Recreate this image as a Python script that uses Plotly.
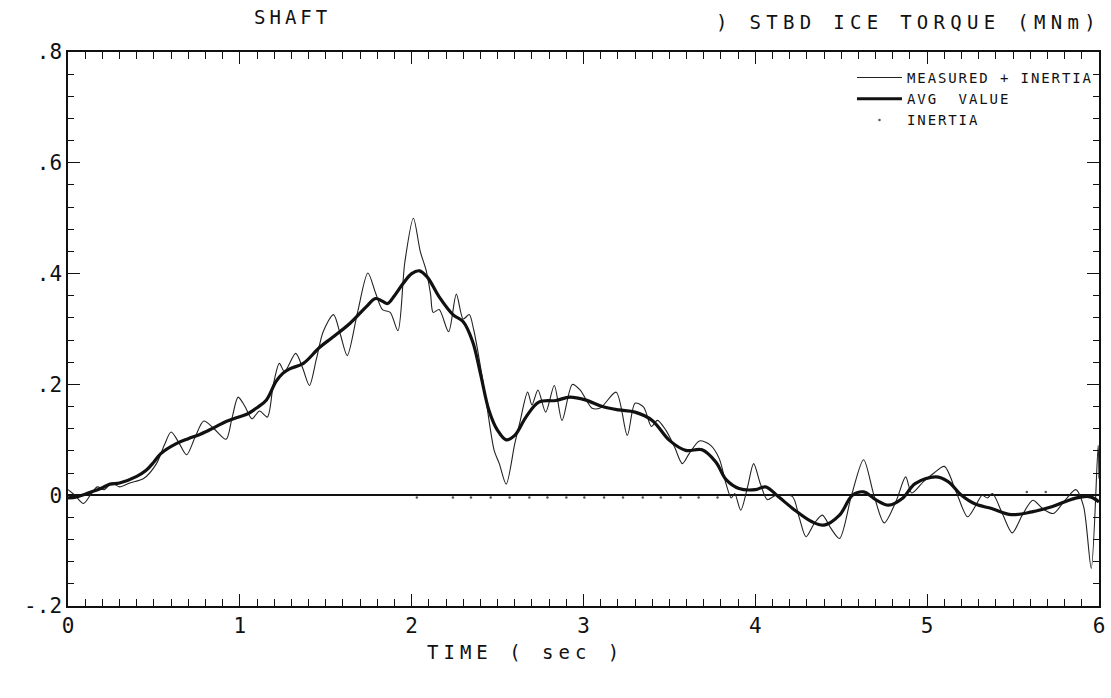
import plotly.graph_objects as go

# Shaft ice torque record, starboard side (MNm) versus time (s)
meas_t = [0.00, 0.04, 0.09, 0.13, 0.17, 0.21, 0.255, 0.30, 0.36, 0.44, 0.515, 0.56, 0.60, 0.645,
          0.69, 0.74, 0.79, 0.85, 0.92, 0.955, 0.99, 1.03, 1.07, 1.115, 1.16, 1.195, 1.23, 1.26,
          1.325, 1.365, 1.405, 1.445, 1.485, 1.545, 1.585, 1.625, 1.685, 1.745, 1.79, 1.83, 1.875,
          1.92, 1.96, 2.01, 2.05, 2.085, 2.11, 2.125, 2.16, 2.215, 2.26, 2.30, 2.335, 2.36, 2.385,
          2.43, 2.48, 2.51, 2.55, 2.60, 2.63, 2.675, 2.70, 2.735, 2.78, 2.83, 2.875, 2.935, 2.98,
          3.05, 3.10, 3.19, 3.255, 3.30, 3.35, 3.395, 3.43, 3.48, 3.53, 3.575, 3.615, 3.675, 3.74,
          3.79, 3.83, 3.86, 3.88, 3.915, 3.955, 3.99, 4.03, 4.07, 4.12, 4.215, 4.255, 4.295, 4.345,
          4.39, 4.44, 4.49, 4.56, 4.63, 4.69, 4.75, 4.82, 4.875, 4.91, 4.98, 5.04, 5.10, 5.17,
          5.235, 5.28, 5.32, 5.35, 5.38, 5.44, 5.495, 5.555, 5.615, 5.675, 5.735, 5.80, 5.865,
          5.91, 5.955, 5.995, 6.00]
meas_v = [0.010, 0.000, -0.015, 0.000, 0.015, 0.010, 0.022, 0.015, 0.022, 0.030, 0.057, 0.090, 0.114, 0.095,
          0.073, 0.105, 0.134, 0.120, 0.101, 0.140, 0.177, 0.160, 0.138, 0.152, 0.141, 0.200, 0.238, 0.223,
          0.256, 0.230, 0.198, 0.245, 0.295, 0.326, 0.290, 0.252, 0.330, 0.401, 0.365, 0.335, 0.330,
          0.297, 0.420, 0.500, 0.440, 0.405, 0.363, 0.330, 0.335, 0.295, 0.363, 0.318, 0.326, 0.300, 0.260,
          0.177, 0.081, 0.057, 0.020, 0.093, 0.132, 0.186, 0.163, 0.190, 0.150, 0.198, 0.135, 0.200, 0.190,
          0.157, 0.158, 0.186, 0.108, 0.166, 0.159, 0.124, 0.135, 0.117, 0.087, 0.057, 0.075, 0.098, 0.090,
          0.066, 0.020, -0.005, 0.003, -0.027, 0.015, 0.057, 0.020, -0.008, 0.000, -0.002, -0.040, -0.075, -0.050,
          -0.036, -0.060, -0.078, 0.000, 0.064, 0.000, -0.050, -0.010, 0.033, 0.004, 0.025, 0.040, 0.052, 0.005,
          -0.039, -0.020, 0.000, -0.005, 0.003, -0.035, -0.068, -0.035, -0.009, -0.025, -0.033, -0.010, 0.010,
          -0.020, -0.132, 0.090, 0.030]

avg_t = [0.00, 0.05, 0.11, 0.19, 0.245, 0.30, 0.40, 0.455, 0.50, 0.54, 0.63, 0.70, 0.77, 0.85, 0.92,
         0.98, 1.04, 1.10, 1.155, 1.21, 1.25, 1.29, 1.37, 1.465, 1.54, 1.64, 1.735, 1.79, 1.83, 1.86,
         1.90, 1.95, 2.00, 2.045, 2.09, 2.16, 2.24, 2.30, 2.355, 2.40, 2.45, 2.50, 2.55, 2.60, 2.665,
         2.74, 2.84, 2.92, 3.01, 3.11, 3.205, 3.30, 3.40, 3.50, 3.595, 3.69, 3.77, 3.83, 3.905, 4.00,
         4.06, 4.135, 4.23, 4.33, 4.40, 4.49, 4.565, 4.63, 4.70, 4.775, 4.855, 4.93, 5.05, 5.12, 5.20,
         5.28, 5.375, 5.49, 5.61, 5.725, 5.825, 5.90, 5.95, 6.00]
avg_v = [-0.005, -0.003, 0.003, 0.012, 0.020, 0.022, 0.034, 0.045, 0.060, 0.075, 0.093, 0.102, 0.110, 0.122, 0.133,
         0.140, 0.146, 0.158, 0.172, 0.205, 0.220, 0.228, 0.238, 0.267, 0.285, 0.310, 0.340, 0.355, 0.350, 0.346,
         0.360, 0.382, 0.400, 0.405, 0.394, 0.358, 0.326, 0.313, 0.277, 0.220, 0.153, 0.117, 0.100, 0.108, 0.141,
         0.168, 0.171, 0.177, 0.172, 0.160, 0.154, 0.150, 0.135, 0.099, 0.081, 0.082, 0.060, 0.028, 0.012, 0.010,
         0.015, -0.003, -0.027, -0.048, -0.054, -0.036, 0.000, 0.006, -0.008, -0.018, -0.006, 0.021, 0.033, 0.025, 0.000,
         -0.016, -0.024, -0.035, -0.030, -0.021, -0.009, -0.003, -0.003, -0.012]

inertia_t = [2.03, 2.24, 2.345, 2.46, 2.57, 2.685, 2.79, 2.90, 3.005, 3.12, 3.23, 3.345, 3.45, 3.565,
             3.67, 3.78, 5.58, 5.69]
inertia_v = [-0.004, -0.004, -0.004, -0.004, -0.004, -0.004, -0.004, -0.004, -0.004, -0.004, -0.004,
             -0.004, -0.004, -0.004, -0.004, -0.004, 0.006, 0.006]

y_ticks = [-0.2, 0.0, 0.2, 0.4, 0.6, 0.8]
y_labels = ["-.2", "0", ".2", ".4", ".6", ".8"]
x_ticks = [0, 1, 2, 3, 4, 5, 6]
x_labels = ["0", "1", "2", "3", "4", "5", "6"]

FONT = "DejaVu Sans Mono"
INK = "#111111"


def spaced(text, px):
    return f'<span style="letter-spacing:{px}px">{text}</span>'


fig = go.Figure()
fig.add_trace(go.Scatter(
    x=meas_t, y=meas_v, mode="lines", name=spaced("MEASURED + INERTIA", 1.9),
    line=dict(color="#222222", width=1.1, shape="spline", smoothing=0.8),
))
fig.add_trace(go.Scatter(
    x=avg_t, y=avg_v, mode="lines", name=spaced("AVG  VALUE", 1.9),
    line=dict(color=INK, width=3.2, shape="spline", smoothing=1.0),
))
fig.add_trace(go.Scatter(
    x=inertia_t, y=inertia_v, mode="markers", name=spaced("INERTIA", 1.9),
    marker=dict(color="#555555", size=2.5),
))

axis_common = dict(
    showline=True, linecolor=INK, linewidth=1.5, mirror="ticks",
    ticks="inside", tickcolor=INK, tickwidth=1.3,
    showgrid=False, tickfont=dict(family=FONT, size=21, color=INK),
)

fig.update_xaxes(
    range=[0, 6], tickvals=x_ticks, ticktext=x_labels, ticklen=12,
    minor=dict(dtick=0.1, ticks="inside", ticklen=7, tickcolor=INK, tickwidth=1.1),
    zeroline=False, **axis_common,
)
fig.update_yaxes(
    range=[-0.2, 0.8], tickvals=y_ticks, ticktext=y_labels, ticklen=12,
    minor=dict(dtick=0.04, ticks="inside", ticklen=6, tickcolor=INK, tickwidth=1.1),
    zeroline=True, zerolinecolor=INK, zerolinewidth=1.5, **axis_common,
)

fig.update_layout(
    width=1111, height=698,
    margin=dict(l=68, r=6, t=52, b=92),
    paper_bgcolor="white", plot_bgcolor="white",
    font=dict(family=FONT, color=INK),
    legend=dict(
        x=0.999, y=0.982, xanchor="right", yanchor="top",
        bgcolor="rgba(0,0,0,0)", font=dict(family=FONT, size=14, color=INK),
        itemwidth=45, tracegroupgap=2,
    ),
    showlegend=True,
    annotations=[
        dict(text=spaced("SHAFT", 4), x=0.218, y=1.063, xref="paper", yref="paper",
             xanchor="center", yanchor="middle",
             showarrow=False, font=dict(family=FONT, size=19, color=INK)),
        dict(text=spaced(") STBD ICE TORQUE (MNm)", 5.3), x=1.004, y=1.054, xref="paper", yref="paper",
             xanchor="right", yanchor="middle",
             showarrow=False, font=dict(family=FONT, size=19, color=INK)),
        dict(text=spaced("TIME ( sec )", 5), x=0.4436, y=-0.083, xref="paper", yref="paper",
             xanchor="center", yanchor="middle",
             showarrow=False, font=dict(family=FONT, size=19, color=INK)),
    ],
)

fig.write_html("out.html")
